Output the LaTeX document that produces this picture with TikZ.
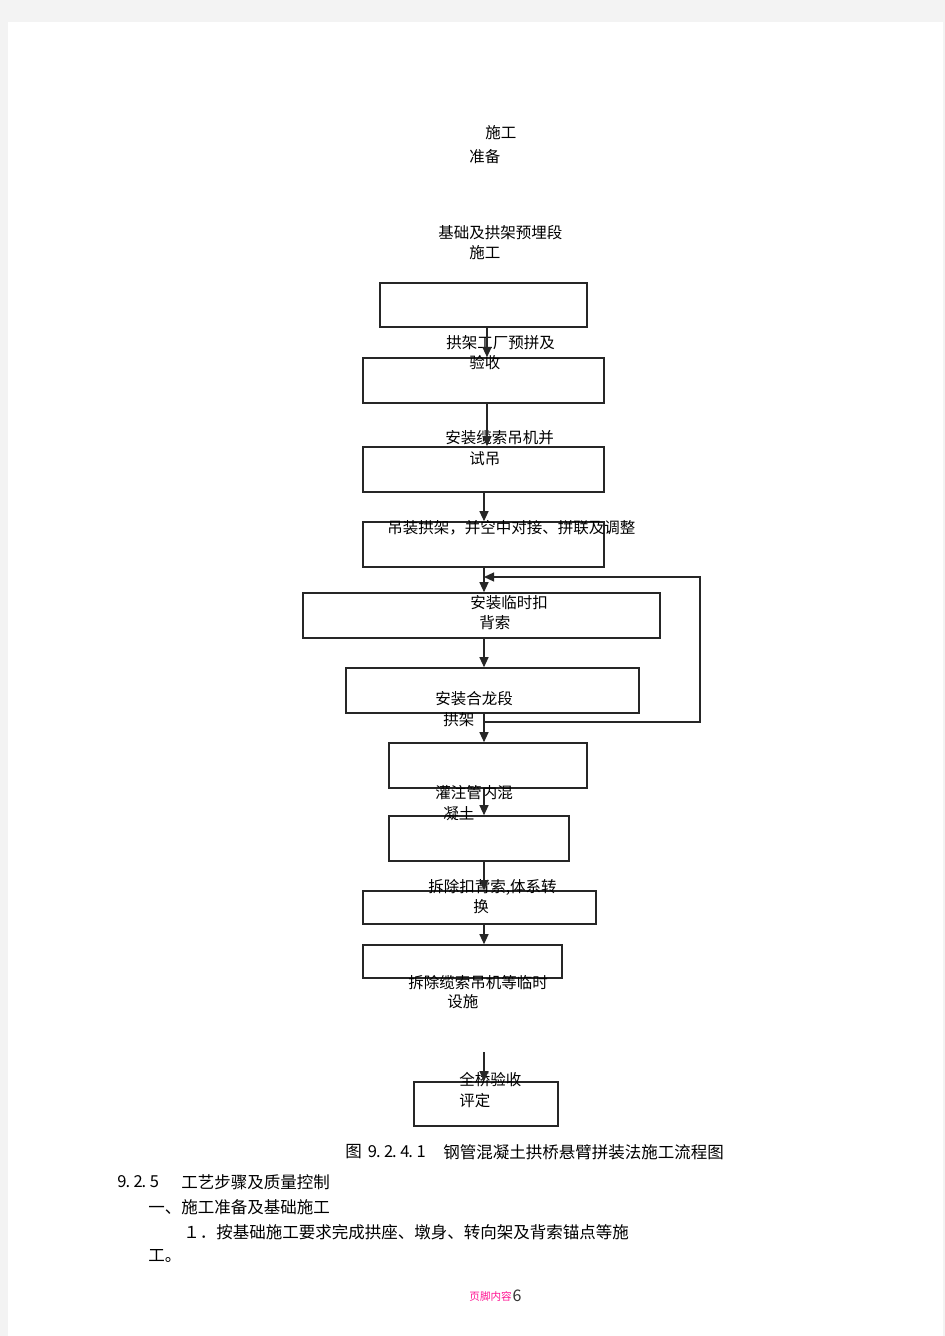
\documentclass[tikz,border=0pt]{standalone}
\usepackage{fontspec}
\setmainfont{Noto Sans CJK SC}
\usepackage{xcolor}
\usetikzlibrary{arrows.meta,fit}
\definecolor{pagegray}{HTML}{F3F3F3}
\definecolor{footpink}{HTML}{FF1493}
\newcommand\hw[1]{\makebox[4.05pt][l]{#1}}
\tikzset{
  stepbox/.style={draw=black!85, line width=0.8pt, inner sep=0pt},
  flow/.style={draw=black!85, line width=0.6pt, -{Triangle[length=5pt,width=4.5pt]}},
  lbl/.style={anchor=west, inner sep=0pt, font=\fontsize{7.75}{9}\selectfont},
  bodytxt/.style={anchor=west, inner sep=0pt, font=\fontsize{8.25}{10}\selectfont}
}
\begin{document}
\begin{tikzpicture}[x=0.5pt,y=-0.5pt]
  \fill[pagegray] (0,0) rectangle (945,1336);
  \fill[white] (8,22) rectangle (943,1336);
  \useasboundingbox (0,0) rectangle (945,1336);
  \coordinate (axis) at (484,0);
  % boxes
  \node[stepbox, fit={(380,283) (587,327)}] (bxfound) {};
  \node[stepbox, fit={(363,358) (604,403)}] (bxfab) {};
  \node[stepbox, fit={(363,447) (604,492)}] (bxcable) {};
  \node[stepbox, fit={(363,522) (604,567)}] (bxhoist) {};
  \node[stepbox, fit={(303,593) (660,638)}] (bxtie) {};
  \node[stepbox, fit={(346,668) (639,713)}] (bxclose) {};
  \node[stepbox, fit={(389,743) (587,788)}] (bxpour) {};
  \node[stepbox, fit={(389,816) (569,861)}] (bxrelease) {};
  \node[stepbox, fit={(363,891) (596,924)}] (bxremove) {};
  \node[stepbox, fit={(363,945) (562,978)}] (bxdismantle) {};
  \node[stepbox, fit={(414,1082) (558,1126)}] (bxaccept) {};
  % labels
  \node[lbl] (prep1) at (485,133) {施工};
  \node[lbl] (prep2) at (469,157) {准备};
  \node[lbl] (found1) at (438,233) {基础及拱架预埋段};
  \node[lbl] (found2) at (469,253) {施工};
  \node[lbl] (fab1) at (446,343) {拱架工厂预拼及};
  \node[lbl] (fab2) at (469,363) {验收};
  \node[lbl] (cab1) at (445,438) {安装缆索吊机并};
  \node[lbl] (cab2) at (469,459) {试吊};
  \node[lbl] (hoist) at (387,528) {吊装拱架，并空中对接、拼联及调整};
  \node[lbl] (tie1) at (470,603) {安装临时扣};
  \node[lbl] (tie2) at (479,623) {背索};
  \node[lbl] (close1) at (435,699) {安装合龙段};
  \node[lbl] (close2) at (443,720) {拱架};
  \node[lbl] (pour1) at (435,793) {灌注管内混};
  \node[lbl] (pour2) at (443,814) {凝土};
  \node[lbl] (rem1) at (428,887) {拆除扣背索,体系转};
  \node[lbl] (rem2) at (473,907) {换};
  \node[lbl] (dis1) at (408,983) {拆除缆索吊机等临时};
  \node[lbl] (dis2) at (447,1002) {设施};
  \node[lbl] (acc1) at (459,1080) {全桥验收};
  \node[lbl] (acc2) at (459,1101) {评定};
  % connectors
  \draw[flow] ([xshift=1.5pt]bxfound.south -| axis) -- ([xshift=1.5pt]bxfab.north -| axis);
  \draw[flow] ([xshift=1.5pt]bxfab.south -| axis) -- ([xshift=1.5pt]bxcable.north -| axis);
  \draw[flow] (bxcable.south -| axis) -- (bxhoist.north -| axis);
  \draw[flow] (bxhoist.south -| axis) -- (bxtie.north -| axis);
  \draw[flow] (bxtie.south -| axis) -- (bxclose.north -| axis);
  \draw[flow] (bxclose.south -| axis) -- (bxpour.north -| axis);
  \draw[flow] (bxpour.south -| axis) -- (bxrelease.north -| axis);
  \draw[flow] (bxrelease.south -| axis) -- (bxremove.north -| axis);
  \draw[flow] (bxremove.south -| axis) -- (bxdismantle.north -| axis);
  \coordinate (loopstart) at (484,722);
  \coordinate (loopend) at (484,577);
  \draw[flow] (loopstart) -- (700,722) -- (700,577) -- (loopend);
  \coordinate (gapend) at (484,1052);
  \draw[flow] (gapend) -- (bxaccept.north -| axis);
  % caption and body text
  \node[bodytxt] (figno) at (345,1152) {图\hspace{3pt}\hw{9}\hw{.}\hw{2}\hw{.}\hw{4}\hw{.}\hw{1}};
  \node[bodytxt] (figtitle) at (443,1152) {钢管混凝土拱桥悬臂拼装法施工流程图};
  \node[bodytxt] (secno) at (117,1182) {\hw{9}\hw{.}\hw{2}\hw{.}\hw{5}};
  \node[bodytxt] (sectitle) at (181,1182) {工艺步骤及质量控制};
  \node[bodytxt] (part1) at (148,1207) {一、施工准备及基础施工};
  \node[bodytxt] (item1) at (183,1232) {１．按基础施工要求完成拱座、墩身、转向架及背索锚点等施};
  \node[bodytxt] (item1b) at (148,1256) {工。};
  \node[anchor=west, inner sep=0pt, text=footpink, font=\fontsize{5.3}{6}\selectfont] (foot) at (469,1296) {页脚内容};
  \node[anchor=west, inner sep=0pt, text=black!80, font=\fontsize{8}{9}\selectfont] (pageno) at (foot.east) {6};
\end{tikzpicture}
\end{document}
